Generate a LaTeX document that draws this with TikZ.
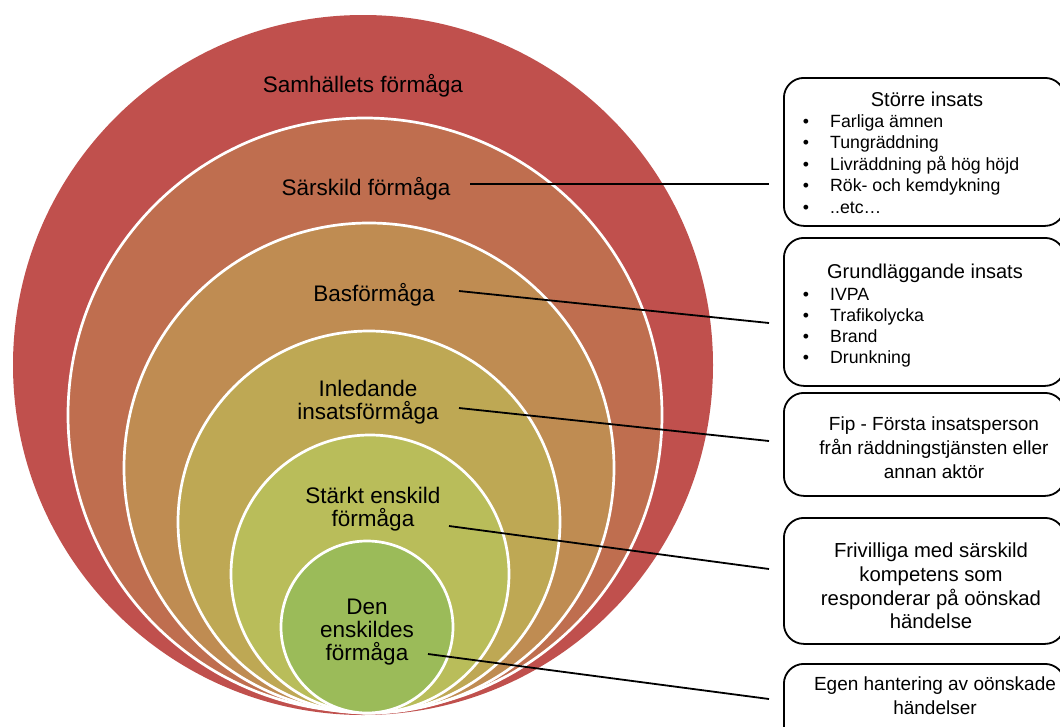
\documentclass[tikz,border=0pt]{standalone}
\usepackage{fontspec}
\setmainfont{Liberation Sans}
\definecolor{ringA}{RGB}{192,80,77}
\definecolor{ringB}{RGB}{191,110,79}
\definecolor{ringC}{RGB}{191,140,82}
\definecolor{ringD}{RGB}{190,168,84}
\definecolor{ringE}{RGB}{185,189,90}
\definecolor{ringF}{RGB}{155,187,89}
\begin{document}
\begin{tikzpicture}[x=1pt,y=-1pt,
  ring/.style={circle,inner sep=0pt,outer sep=0pt,draw=white,line width=2.7pt},
  infobox/.style={rectangle,rounded corners=20pt,draw=black,line width=1.8pt,anchor=north west,inner sep=0pt,minimum width=281pt},
  clabel/.style={anchor=base,inner sep=0pt,font=\fontsize{22.5}{24}\selectfont},
  bhead/.style={anchor=base,inner sep=0pt,font=\fontsize{20}{24}\selectfont},
  bitem/.style={anchor=base west,inner sep=0pt,font=\fontsize{17.7}{21}\selectfont},
  bdot/.style={anchor=base,inner sep=0pt,font=\fontsize{17.7}{21}\selectfont},
  btext/.style={anchor=base,inner sep=0pt,font=\fontsize{19}{24}\selectfont},
  btextb/.style={anchor=base,inner sep=0pt,font=\fontsize{20.3}{24}\selectfont},
  conn/.style={draw=black,line width=1.8pt}]
\clip (0,0) rectangle (1060,726);
\fill[white] (0,0) rectangle (1060,726);
% rings
\node[circle,inner sep=0pt,fill=ringA,minimum size=700pt] (r1) at (363,365) {};
\node[ring,fill=ringB,minimum size=594pt] (r2) at (365,415) {};
\node[ring,fill=ringC,minimum size=490pt] (r3) at (369,468) {};
\node[ring,fill=ringD,minimum size=382pt] (r4) at (369,522) {};
\node[ring,fill=ringE,minimum size=278pt] (r5) at (370,574) {};
\node[ring,fill=ringF,minimum size=172pt] (r6) at (367,627) {};
% ring labels
\node[clabel] (l1) at (363,92) {Samhällets förmåga};
\node[clabel] (l2) at (366,195) {Särskild förmåga};
\node[clabel] (l3) at (374,301) {Basförmåga};
\node[clabel] (l4a) at (368,396) {Inledande};
\node[clabel] (l4b) at (368,419) {insatsförmåga};
\node[clabel] (l5a) at (373,503) {Stärkt enskild};
\node[clabel] (l5b) at (373,526) {förmåga};
\node[clabel] (l6a) at (367,614) {Den};
\node[clabel] (l6b) at (367,637) {enskildes};
\node[clabel] (l6c) at (367,660) {förmåga};
% boxes
\node[infobox,minimum height=148pt] (b1) at (783,77) {};
\node[infobox,minimum height=148pt] (b2) at (783,237) {};
\node[infobox,minimum height=103pt] (b3) at (783,392) {};
\node[infobox,minimum height=126pt] (b4) at (783,517) {};
\node[infobox,minimum height=100pt] (b5) at (783,663) {};
% box 1 text
\node[bhead] (h1) at (927,106) {Större insats};
\foreach \yy/\txt [count=\i] in {127/Farliga ämnen,148.5/Tungräddning,170/Livräddning på hög höjd,191.5/Rök- och kemdykning,213/..etc…}{
  \node[bdot] (d1\i) at (806,\yy) {•};
  \node[bitem] (i1\i) at (830,\yy) {\txt};
}
% box 2 text
\node[bhead] (h2) at (925,278) {Grundläggande insats};
\foreach \yy/\txt [count=\i] in {300/IVPA,321/Trafikolycka,342/Brand,363/Drunkning}{
  \node[bdot] (d2\i) at (806,\yy) {•};
  \node[bitem] (i2\i) at (830,\yy) {\txt};
}
% box 3 text
\node[btext] (t3a) at (934,430) {Fip - Första insatsperson};
\node[btext] (t3b) at (934,454) {från räddningstjänsten eller};
\node[btext] (t3c) at (934,478) {annan aktör};
% box 4 text
\node[btextb] (t4a) at (931,557) {Frivilliga med särskild};
\node[btextb] (t4b) at (931,581) {kompetens som};
\node[btextb] (t4c) at (931,605) {responderar på oönskad};
\node[btextb] (t4d) at (931,628) {händelse};
% box 5 text
\node[btext] (t5a) at (935,690) {Egen hantering av oönskade};
\node[btext] (t5b) at (935,714) {händelser};
% connectors
\coordinate (s1) at (470,184); \coordinate (e1) at (769,184);
\coordinate (s2) at (459,291); \coordinate (e2) at (769,323);
\coordinate (s3) at (459,408); \coordinate (e3) at (769,441);
\coordinate (s4) at (449,526); \coordinate (e4) at (769,569);
\coordinate (s5) at (428,654); \coordinate (e5) at (769,699);
\draw[conn] (s1) -- (e1);
\draw[conn] (s2) -- (e2);
\draw[conn] (s3) -- (e3);
\draw[conn] (s4) -- (e4);
\draw[conn] (s5) -- (e5);
\end{tikzpicture}
\end{document}
